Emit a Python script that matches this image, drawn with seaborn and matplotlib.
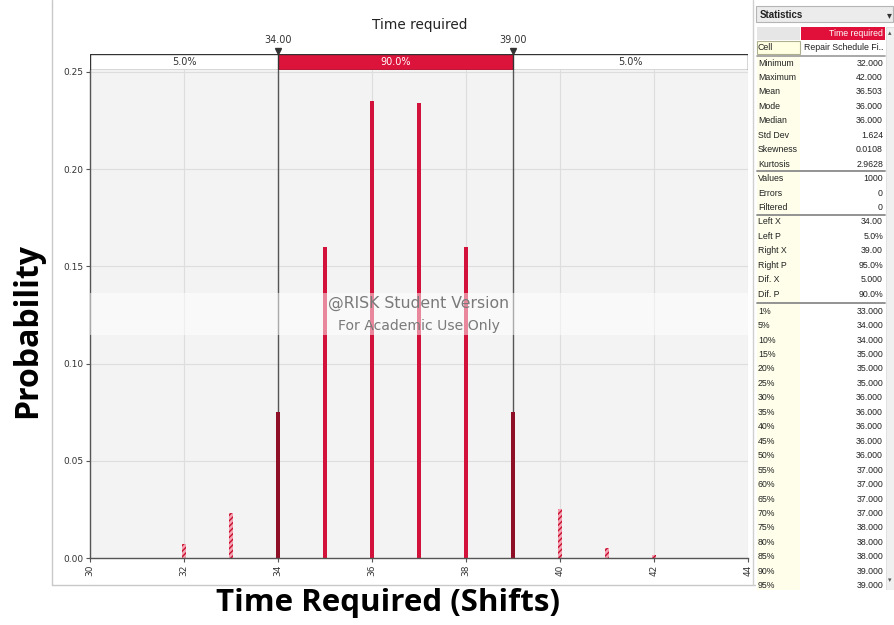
import matplotlib
matplotlib.use('Agg')
import matplotlib.pyplot as plt
from matplotlib.patches import Rectangle
from matplotlib.lines import Line2D
import pandas as pd
import seaborn as sns

shifts = [32, 33, 34, 35, 36, 37, 38, 39, 40, 41, 42]
probs = [0.007, 0.023, 0.075, 0.160, 0.235, 0.234, 0.160, 0.075, 0.025, 0.005, 0.0015]
zones = ['out', 'out', 'edge', 'in', 'in', 'in', 'in', 'edge', 'out', 'out', 'out']

left_x, right_x = 34.0, 39.0
band_pcts = ['5.0%', '90.0%', '5.0%']

stat_names = ['Minimum', 'Maximum', 'Mean', 'Mode', 'Median', 'Std Dev', 'Skewness', 'Kurtosis',
              'Values', 'Errors', 'Filtered',
              'Left X', 'Left P', 'Right X', 'Right P', 'Dif. X', 'Dif. P',
              '1%', '5%', '10%', '15%', '20%', '25%', '30%', '35%', '40%', '45%',
              '50%', '55%', '60%', '65%', '70%', '75%', '80%', '85%', '90%', '95%']
stat_values = ['32.000', '42.000', '36.503', '36.000', '36.000', '1.624', '0.0108', '2.9628',
               '1000', '0', '0',
               '34.00', '5.0%', '39.00', '95.0%', '5.000', '90.0%',
               '33.000', '34.000', '34.000', '35.000', '35.000', '35.000', '36.000', '36.000',
               '36.000', '36.000', '36.000', '37.000', '37.000', '37.000', '37.000', '38.000',
               '38.000', '38.000', '39.000', '39.000']

df = pd.DataFrame({'shift': shifts, 'prob': probs, 'zone': zones})

sns.set_style('white')
plt.rcParams['font.family'] = ['DejaVu Sans']

W, H = 894, 625
fig = plt.figure(figsize=(W / 100, H / 100), dpi=100)

def fx(px):
    return px / W

def fy(py):
    return 1 - py / H

def box(x0, y0, x1, y1):
    return [fx(x0), fy(y1), fx(x1) - fx(x0), fy(y0) - fy(y1)]

# main chart
ax = fig.add_axes(box(90, 70, 748, 558))
ax.set_facecolor('#f3f3f3')
sns.barplot(data=df, x='shift', y='prob', hue='zone', hue_order=['out', 'edge', 'in'],
            palette={'out': '#f5a3b4', 'edge': '#8e0f26', 'in': '#d3123b'},
            native_scale=True, width=0.068, dodge=False, legend=False,
            saturation=1, linewidth=0, ax=ax)
outer = [s for s, z in zip(shifts, zones) if z == 'out']
for p in ax.patches:
    c = round(p.get_x() + p.get_width() / 2)
    if c in outer:
        p.set_hatch('//////')
        p.set_edgecolor('#c8102e')
        p.set_linewidth(0)

ax.set_xlim(30, 44)
ax.set_ylim(0, 0.251)
ax.set_xticks(range(30, 45, 2))
ax.set_xticklabels([str(v) for v in range(30, 45, 2)], rotation=90, fontsize=6.5, color='#333')
ax.set_yticks([0, 0.05, 0.10, 0.15, 0.20, 0.25])
ax.set_yticklabels(['%.2f' % v for v in [0, 0.05, 0.10, 0.15, 0.20, 0.25]], fontsize=6.5, color='#333')
ax.tick_params(axis='both', length=3, width=0.8, color='#555', pad=2, bottom=True, left=True)
ax.set_xlabel('')
ax.set_ylabel('')
ax.grid(True, color='#dddddd', lw=0.8)
ax.set_axisbelow(True)
for s in ['top', 'right']:
    ax.spines[s].set_visible(False)
for s in ['left', 'bottom']:
    ax.spines[s].set_color('#555555')
    ax.spines[s].set_linewidth(1)

for xv in (left_x, right_x):
    ax.axvline(xv, color='#555555', lw=1, zorder=0.8)

# watermark
ax.axhspan(0.1145, 0.1365, color='white', alpha=0.5, lw=0, zorder=3)
ax.text(0.5, 0.131, '@RISK Student Version', transform=ax.get_yaxis_transform(),
        ha='center', va='center', fontsize=11.3, color='#7a7a7a', zorder=4)
ax.text(0.5, 0.1195, 'For Academic Use Only', transform=ax.get_yaxis_transform(),
        ha='center', va='center', fontsize=10.1, color='#7a7a7a', zorder=4)

# delimiter bar
dax = fig.add_axes(box(90, 54, 748, 70))
dax.set_xlim(30, 44)
dax.set_ylim(0, 1)
dax.axis('off')
dax.add_patch(Rectangle((30, 0), 14, 1, facecolor='white', edgecolor='#333333', lw=1))
dax.add_patch(Rectangle((left_x, 0), right_x - left_x, 1, facecolor='#dc143c', edgecolor='#333333', lw=1))
dax.text((30 + left_x) / 2, 0.5, band_pcts[0], ha='center', va='center', fontsize=7, color='#333')
dax.text((left_x + right_x) / 2, 0.5, band_pcts[1], ha='center', va='center', fontsize=7, color='white')
dax.text((right_x + 44) / 2, 0.5, band_pcts[2], ha='center', va='center', fontsize=7, color='#333')
for xv in (left_x, right_x):
    dax.plot([xv], [1.2], marker='v', ms=4.5, color='#333333', clip_on=False)
    dax.text(xv, 1.85, '%.2f' % xv, ha='center', va='center', fontsize=7, color='#333')

fig.text(fx(420), fy(25), 'Time required', ha='center', va='center', fontsize=9.8, color='#222')

# big axis labels
fig.text(fx(28), fy(330), 'Probability', rotation=90, ha='center', va='center',
         fontsize=23, fontweight='bold', family='Open Sans', color='black')
fig.text(fx(388), fy(603), 'Time Required (Shifts)', ha='center', va='center',
         fontsize=22.5, fontweight='bold', family='Open Sans', color='black')

# screenshot frame lines
fig.add_artist(Line2D([fx(52), fx(52)], [fy(0), fy(585)], color='#c8c8c8', lw=1))
fig.add_artist(Line2D([fx(52), fx(755)], [fy(585), fy(585)], color='#c8c8c8', lw=1))
fig.add_artist(Line2D([fx(753), fx(753)], [fy(0), fy(585)], color='#d0d0d0', lw=1))

# statistics table
tax = fig.add_axes(box(755, 5, 894, 590))
tax.set_xlim(755, 894)
tax.set_ylim(590, 5)
tax.axis('off')
tf = dict(family='Liberation Sans', fontsize=6.3, color='#222', va='center')

tax.add_patch(Rectangle((756, 6), 137, 16, facecolor='#ececec', edgecolor='#b5b5b5', lw=0.8))
tax.text(760, 14.5, 'Statistics', fontweight='bold', **{**tf, 'fontsize': 7})
tax.text(889, 15, '▾', ha='center', va='center', fontsize=7, color='#333')

tax.add_patch(Rectangle((757, 27), 43, 13, facecolor='#e6e6e6', lw=0))
tax.add_patch(Rectangle((801, 27), 84, 13, facecolor='#e0103a', lw=0))
tax.text(883, 34, 'Time required', ha='right', **{**tf, 'color': 'white'})

tax.add_patch(Rectangle((757, 41), 43, 13, facecolor='#ffffe1', edgecolor='#b0b090', lw=0.8))
tax.text(758, 47.5, 'Cell', ha='left', **tf)
tax.text(883, 47.5, 'Repair Schedule Fi..', ha='right', **tf)
tax.plot([757, 885], [55.5, 55.5], color='#999999', lw=1.2)

tax.add_patch(Rectangle((757, 56), 43, 534, facecolor='#fefeea', lw=0))
tax.add_patch(Rectangle((886, 27), 8, 563, facecolor='#f0f0f0', edgecolor='#dddddd', lw=0.6))
tax.text(890, 33, '▴', ha='center', va='center', fontsize=5, color='#555')
tax.text(890, 580, '▾', ha='center', va='center', fontsize=5, color='#555')

row_y = []
for i in range(len(stat_names)):
    row_y.append(63 + 14.45 * i + (2.5 if i >= 17 else 0))
for i, (n, v) in enumerate(zip(stat_names, stat_values)):
    y = row_y[i]
    tax.text(758, y, n, ha='left', clip_on=True, **tf)
    tax.text(883, y, v, ha='right', clip_on=True, **tf)
for i in (7, 10, 16):
    ys = (row_y[i] + row_y[i + 1]) / 2
    tax.plot([757, 885], [ys, ys], color='#8a8a8a', lw=1.3)

plt.savefig('out.png', dpi=100)
